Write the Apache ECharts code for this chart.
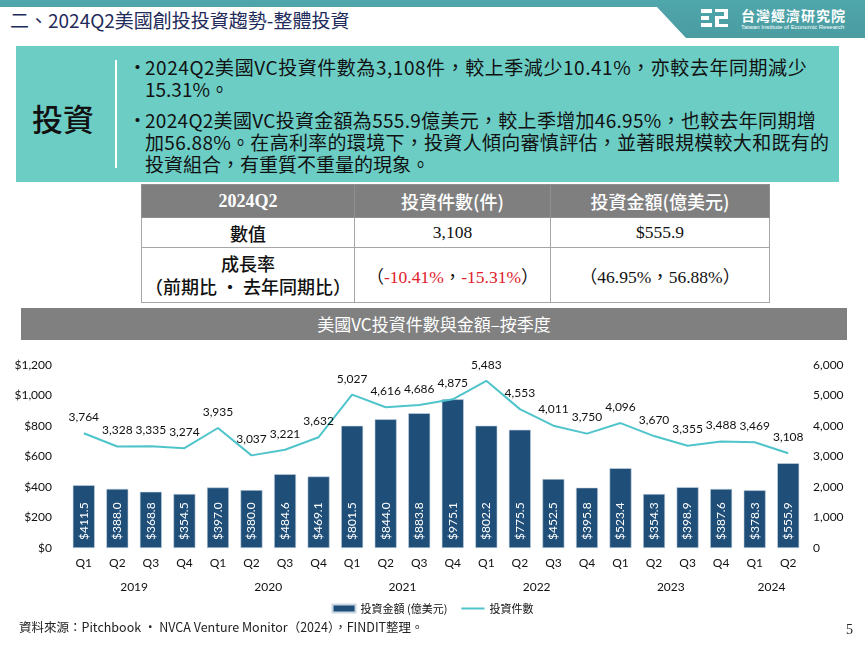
<!DOCTYPE html>
<html lang="zh-Hant">
<head>
<meta charset="UTF-8">
<title>美國VC投資件數與金額</title>
<script src="https://cdn.jsdelivr.net/npm/echarts@6/dist/echarts.min.js"></script>
<style>
    html, body { margin: 0; padding: 0; background: #fff; }
    body { width: 865px; height: 649px; position: relative; overflow: hidden;
           font-family: "Noto Sans CJK TC", "Noto Sans", sans-serif; color: #111; }
    .abs { position: absolute; }
    #band { left: 0; top: 0; width: 865px; height: 39px; background: linear-gradient(#4fa6ab, #4a9ca1);
            clip-path: polygon(0 0, 100% 0, 100% 38px, 686px 38px, 657px 7px, 0 7px); }
    #title { left: 10px; top: 6px; font-size: 19px; color: #1f2b5b; white-space: nowrap; }
    #logoText { left: 741px; top: 5px; color: #fff; font-family: "Noto Sans CJK TC", serif; font-size: 14px; font-weight: bold; letter-spacing: 1px; }
    #logoEn { left: 741px; top: 24px; color: #fff; font-family: "Liberation Sans", sans-serif; font-size: 6px; white-space: nowrap; }
    .ic { background: #fff; position: absolute; }
    #box { left: 16px; top: 46px; width: 823px; height: 136px; background: #6ccdc5; }
    #boxTitle { left: 32px; top: 95px; font-size: 31px; font-weight: 500; color: #111; }
    #vline { left: 115px; top: 60px; width: 2px; height: 108px; background: #fff; }
    #bullets { left: 128px; top: 56px; font-size: 19px; line-height: 22px; white-space: nowrap; }
    .bl { position: relative; padding-left: 17px; }
    .bl:before { content: "•"; position: absolute; left: 0; top: 0; }
    .bl + .bl { margin-top: 9px; }
    .w1 { letter-spacing: 0.55px; }
    .w2 { letter-spacing: 0.3px; }
    table { position: absolute; left: 141px; top: 184px; border-collapse: collapse; }
    td, th { border: 1px solid #a6a6a6; text-align: center; padding: 0; }
    th { background: #7f7f7f; color: #fff; font-size: 18px; font-weight: 500; height: 32px; border-color: #8f8f8f; }
    th.serif { font-weight: bold; }
    .serif { font-family: "Liberation Serif", "Noto Sans CJK TC", serif; }
    td { font-size: 18px; }
    td.serif { font-size: 17.5px; }
    .red { color: #e0202a; }
    #banner { left: 21px; top: 308px; width: 826px; height: 32px; background: #808080; color: #fff;
              font-size: 17px; line-height: 32px; text-align: center; }
    #chart { left: 0; top: 340px; width: 865px; height: 285px; }
    #source { left: 19px; top: 617px; font-size: 12.5px; color: #222; white-space: nowrap; }
    #page { left: 846px; top: 622px; font-family: "Liberation Serif", serif; font-size: 14px; color: #222; }
</style>
</head>
<body>
<div id="band" class="abs"></div>
<div id="title" class="abs">二、2024Q2美國創投投資趨勢-整體投資</div>
<div class="abs" style="left:701px;top:9px;width:28px;height:19px;">
    <div class="ic" style="left:0;top:0;width:11px;height:4px;"></div>
    <div class="ic" style="left:0;top:7px;width:8px;height:4px;"></div>
    <div class="ic" style="left:0;top:14px;width:11px;height:4px;"></div>
    <div class="ic" style="left:14px;top:0;width:13px;height:3px;"></div>
    <div class="ic" style="left:23px;top:0;width:4px;height:9px;"></div>
    <div class="ic" style="left:14px;top:7px;width:13px;height:3px;"></div>
    <div class="ic" style="left:14px;top:7px;width:4px;height:11px;"></div>
    <div class="ic" style="left:14px;top:15px;width:13px;height:3px;"></div>
</div>
<div id="logoText" class="abs">台灣經濟研究院</div>
<div id="logoEn" class="abs">Taiwan Institute of Economic Research</div>

<div id="box" class="abs"></div>
<div id="boxTitle" class="abs">投資</div>
<div id="vline" class="abs"></div>
<div id="bullets" class="abs">
    <div class="bl"><span class="w1">2024Q2美國VC投資件數為3,108件，較上季減少10.41%，亦較去年同期減少</span><br>15.31%。</div>
    <div class="bl"><span class="w2">2024Q2美國VC投資金額為555.9億美元，較上季增加46.95%，也較去年同期增</span><br><span class="w2">加56.88%。在高利率的環境下，投資人傾向審慎評估，並著眼規模較大和既有的</span><br>投資組合，有重質不重量的現象。</div>
</div>

<table>
    <tr>
        <th class="serif" style="width:212px;">2024Q2</th>
        <th style="width:195px;">投資件數(件)</th>
        <th style="width:218px;">投資金額(億美元)</th>
    </tr>
    <tr style="height:30px;">
        <td style="font-weight:500;">數值</td>
        <td class="serif">3,108</td>
        <td class="serif">$555.9</td>
    </tr>
    <tr style="height:55px;">
        <td style="font-weight:500;line-height:23px;">成長率<br>（前期比 · 去年同期比）</td>
        <td class="serif">（<span class="red">-10.41%</span>，<span class="red">-15.31%</span>）</td>
        <td class="serif">（46.95%，56.88%）</td>
    </tr>
</table>

<div id="banner" class="abs">美國VC投資件數與金額–按季度</div>
<div id="chart" class="abs"></div>
<div id="source" class="abs">資料來源：Pitchbook · NVCA Venture Monitor（2024），FINDIT整理。</div>
<div id="page" class="abs">5</div>

<script type="text/javascript">
    // 季度與年份
    var quarters = ['Q1','Q2','Q3','Q4','Q1','Q2','Q3','Q4','Q1','Q2','Q3','Q4',
                    'Q1','Q2','Q3','Q4','Q1','Q2','Q3','Q4','Q1','Q2'];
    var years = ['2019','2020','2021','2022','2023','2024'];
    var quartersPerYear = [4, 4, 4, 4, 4, 2];
    // 投資金額(億美元)
    var amounts = [411.5, 388.0, 368.8, 354.5, 397.0, 380.0, 484.6, 469.1, 801.5, 844.0, 883.8,
                   975.1, 802.2, 775.5, 452.5, 395.8, 523.4, 354.3, 398.9, 387.6, 378.3, 555.9];
    // 投資件數
    var counts = [3764, 3328, 3335, 3274, 3935, 3037, 3221, 3632, 5027, 4616, 4686,
                  4875, 5483, 4553, 4011, 3750, 4096, 3670, 3355, 3488, 3469, 3108];

    // 年份標籤放在每年季度的中間
    var yearAt = {};
    var start = 0;
    for (var i = 0; i < years.length; i++) {
        yearAt[start + quartersPerYear[i] / 2] = years[i];
        start += quartersPerYear[i];
    }

    var numFont = 'Lato, "Noto Sans", sans-serif';
    var myChart = echarts.init(document.getElementById('chart'));
    var option = {
        animation: false,
        textStyle: { fontFamily: numFont },
        grid: { left: 67, right: 60, top: 25, bottom: 77 },
        legend: {
            bottom: 6,
            left: 'center',
            itemWidth: 23,
            itemHeight: 8,
            itemGap: 14,
            textStyle: { fontSize: 11, color: '#111', fontFamily: '"Noto Sans CJK TC", sans-serif' },
            data: [
                { name: '投資金額 (億美元)', icon: 'rect' },
                // 細線圖示:透明的高度框只用來撐開比例
                { name: '投資件數', icon: 'path://M0,3 H23 V5 H0 Z M0,0 H0.01 V8 H0 Z' }
            ]
        },
        xAxis: [{
            type: 'category',
            data: quarters,
            axisLine: { show: false },
            axisTick: { show: false },
            axisLabel: { color: '#111', fontSize: 12, margin: 9 }
        }, {
            type: 'value',
            min: 0,
            max: quarters.length,
            interval: 1,
            position: 'bottom',
            axisLine: { show: false },
            axisTick: { show: false },
            splitLine: { show: false },
            axisLabel: {
                color: '#111', fontSize: 12, margin: 33,
                formatter: function (v) { return yearAt[v] || ''; }
            }
        }],
        yAxis: [{
            type: 'value',
            min: 0,
            max: 1200,
            interval: 200,
            splitLine: { show: false },
            axisLine: { show: false },
            axisTick: { show: false },
            axisLabel: {
                color: '#111', fontSize: 12, margin: 15,
                formatter: function (v) { return '$' + v.toLocaleString('en-US'); }
            }
        }, {
            type: 'value',
            min: 0,
            max: 6000,
            interval: 1000,
            splitLine: { show: false },
            axisLine: { show: false },
            axisTick: { show: false },
            axisLabel: {
                color: '#111', fontSize: 12, margin: 8,
                formatter: function (v) { return v.toLocaleString('en-US'); }
            }
        }],
        series: [{
            name: '投資金額 (億美元)',
            type: 'bar',
            data: amounts,
            barWidth: 22,
            itemStyle: { color: '#1f4e79', borderColor: '#c9d6e3', borderWidth: 0.6 },
            label: {
                show: true,
                position: 'insideBottom',
                rotate: 90,
                align: 'left',
                verticalAlign: 'middle',
                distance: 8,
                color: '#fff',
                fontSize: 12,
                formatter: function (p) { return '$' + p.value.toFixed(1); }
            }
        }, {
            name: '投資件數',
            type: 'line',
            yAxisIndex: 1,
            data: counts,
            symbol: 'circle',
            symbolSize: 0.1,
            showSymbol: true,
            lineStyle: { color: '#4fc4ca', width: 2 },
            itemStyle: { color: '#4fc4ca' },
            label: {
                show: true,
                position: 'top',
                distance: 10,
                color: '#111',
                fontSize: 12,
                formatter: function (p) { return p.value.toLocaleString('en-US'); }
            }
        }]
    };
    myChart.setOption(option);
</script>
</body>
</html>
